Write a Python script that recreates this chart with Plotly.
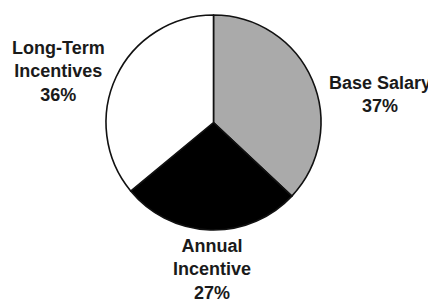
import plotly.graph_objects as go

labels = ["Base Salary", "Annual Incentive", "Long-Term Incentives"]
values = [37, 27, 36]
label_text = ["Base Salary<br>37%", "Annual<br>Incentive<br>27%", "Long-Term<br>Incentives<br>36%"]
colors = ["#aaaaaa", "#000000", "#ffffff"]

W, H = 436, 302
OFF = 8  # page body margin offsets the figure on screen
fig = go.Figure(go.Pie(
    labels=labels, values=values, sort=False, direction="clockwise", rotation=0,
    marker=dict(colors=colors, line=dict(color="#111111", width=1.6)),
    textinfo="none", hoverinfo="none", showlegend=False,
    domain=dict(x=[(106 - OFF) / W, (321 - OFF) / W],
                y=[(H - (230 - OFF)) / H, (H - (15 - OFF)) / H]),
))

label_pos = [(380, 94), (212, 269), (58, 71)]
for t, (px, py) in zip(label_text, label_pos):
    fig.add_annotation(text="<b>" + t + "</b>", x=(px - OFF) / W, y=1 - (py - OFF) / H,
                       xref="paper", yref="paper",
                       showarrow=False, xanchor="center", yanchor="middle", align="center",
                       font=dict(family="Liberation Sans, Arial", size=18, color="#1a1a1a"))

fig.update_layout(width=W, height=H, margin=dict(l=0, r=0, t=0, b=0),
                  paper_bgcolor="white", plot_bgcolor="white")
fig.write_html("out.html")
